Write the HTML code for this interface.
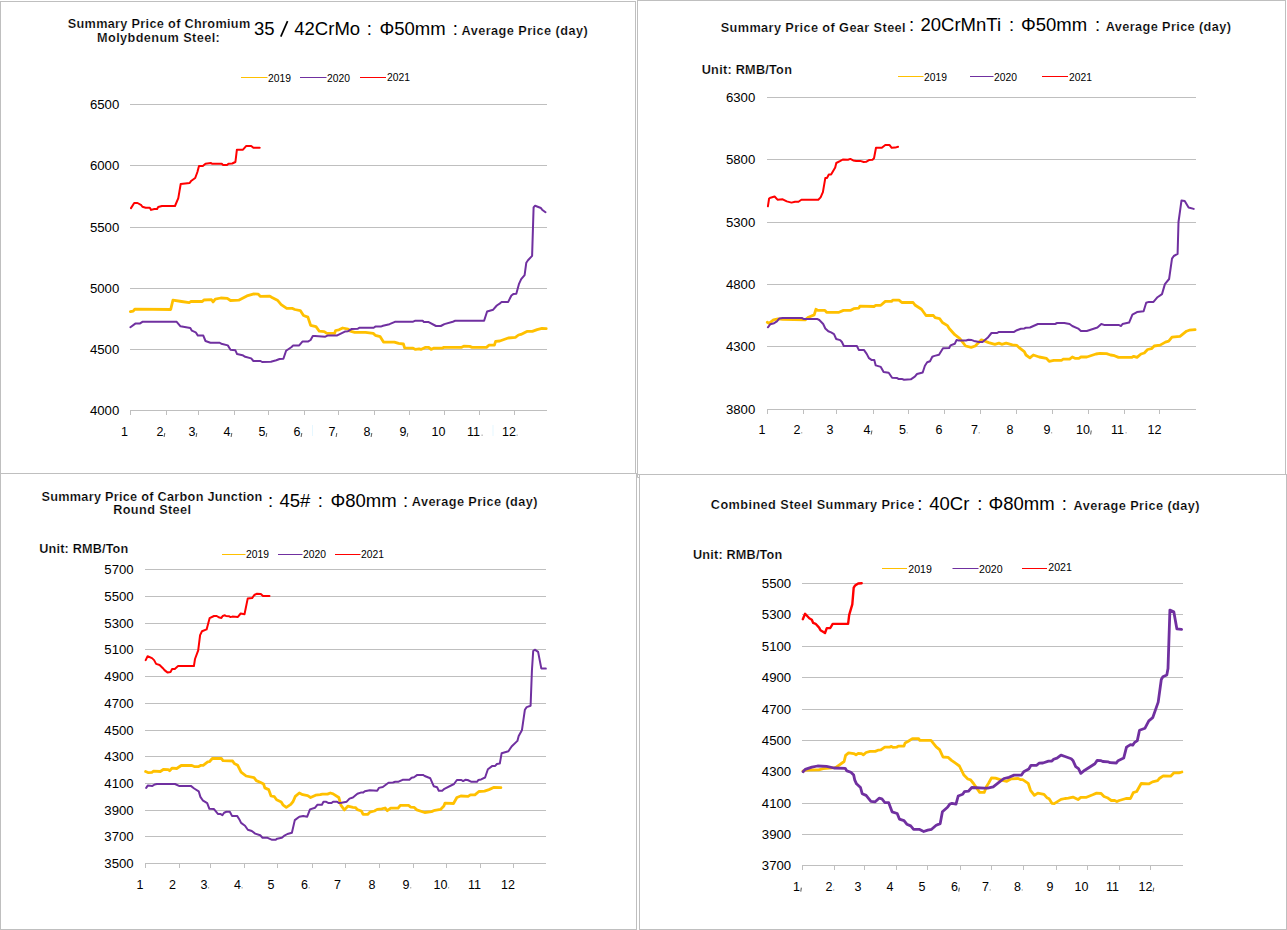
<!DOCTYPE html>
<html><head><meta charset="utf-8"><title>Steel Price Charts</title>
<style>
html,body{margin:0;padding:0;background:#fff;}
body{width:1287px;height:930px;overflow:hidden;}
svg{display:block;font-family:'Liberation Sans', sans-serif;}
</style></head><body>
<svg width="1287" height="930" viewBox="0 0 1287 930">
<rect width="1287" height="930" fill="#fff"/>
<rect x="0.5" y="1.5" width="635" height="472" fill="none" stroke="#bfbfbf" stroke-width="1"/>
<text x="67.70" y="27.9" font-size="12.7" font-weight="bold" textLength="182.50" lengthAdjust="spacing" stroke="#fff" stroke-width="0.2">Summary Price of Chromium</text>
<text x="97.00" y="41.9" font-size="12.7" font-weight="bold" textLength="122.80" lengthAdjust="spacing" stroke="#fff" stroke-width="0.2">Molybdenum Steel:</text>
<text x="254" y="34.7" font-size="18.5" font-weight="normal" text-anchor="start" fill="#000">35</text>
<text x="294.3" y="34.7" font-size="18.5" font-weight="normal" text-anchor="start" fill="#000">42CrMo</text>
<text x="369.3" y="34.7" font-size="18.5" font-weight="normal" text-anchor="middle" fill="#000">:</text>
<text x="379.5" y="34.7" font-size="18.5" font-weight="normal" text-anchor="start" fill="#000">Φ50mm</text>
<text x="455.2" y="34.7" font-size="18.5" font-weight="normal" text-anchor="middle" fill="#000">:</text>
<text x="461.50" y="34.5" font-size="12.7" font-weight="bold" textLength="126.20" lengthAdjust="spacing" stroke="#fff" stroke-width="0.2">Average Price (day)</text>
<line x1="241" y1="77.5" x2="267.5" y2="77.5" stroke="#ffc000" stroke-width="1"/>
<text x="268" y="81.5" font-size="10.3" font-weight="normal" text-anchor="start" fill="#000">2019</text>
<line x1="300" y1="77.5" x2="326.5" y2="77.5" stroke="#7030a0" stroke-width="1"/>
<text x="327" y="81.5" font-size="10.3" font-weight="normal" text-anchor="start" fill="#000">2020</text>
<line x1="360" y1="77.5" x2="386" y2="77.5" stroke="#ff0000" stroke-width="1"/>
<text x="387" y="80.8" font-size="10.3" font-weight="normal" text-anchor="start" fill="#000">2021</text>
<line x1="130" y1="104.5" x2="547" y2="104.5" stroke="#bfbfbf" stroke-width="1"/>
<line x1="130" y1="165.5" x2="547" y2="165.5" stroke="#bfbfbf" stroke-width="1"/>
<line x1="130" y1="227.5" x2="547" y2="227.5" stroke="#bfbfbf" stroke-width="1"/>
<line x1="130" y1="288.5" x2="547" y2="288.5" stroke="#bfbfbf" stroke-width="1"/>
<line x1="130" y1="349.5" x2="547" y2="349.5" stroke="#bfbfbf" stroke-width="1"/>
<line x1="130" y1="410.5" x2="547" y2="410.5" stroke="#bfbfbf" stroke-width="1"/>
<text x="119.3" y="108.5" font-size="13.2" font-weight="normal" text-anchor="end" fill="#000">6500</text>
<text x="119.3" y="169.5" font-size="13.2" font-weight="normal" text-anchor="end" fill="#000">6000</text>
<text x="119.3" y="231.5" font-size="13.2" font-weight="normal" text-anchor="end" fill="#000">5500</text>
<text x="119.3" y="292.5" font-size="13.2" font-weight="normal" text-anchor="end" fill="#000">5000</text>
<text x="119.3" y="353.5" font-size="13.2" font-weight="normal" text-anchor="end" fill="#000">4500</text>
<text x="119.3" y="414.5" font-size="13.2" font-weight="normal" text-anchor="end" fill="#000">4000</text>
<line x1="130.5" y1="410" x2="130.5" y2="415" stroke="#bfbfbf" stroke-width="1"/>
<line x1="166.5" y1="410" x2="166.5" y2="415" stroke="#bfbfbf" stroke-width="1"/>
<line x1="198.5" y1="410" x2="198.5" y2="415" stroke="#bfbfbf" stroke-width="1"/>
<line x1="234.5" y1="410" x2="234.5" y2="415" stroke="#bfbfbf" stroke-width="1"/>
<line x1="268.5" y1="410" x2="268.5" y2="415" stroke="#bfbfbf" stroke-width="1"/>
<line x1="304.5" y1="410" x2="304.5" y2="415" stroke="#bfbfbf" stroke-width="1"/>
<line x1="338.5" y1="410" x2="338.5" y2="415" stroke="#bfbfbf" stroke-width="1"/>
<line x1="374.5" y1="410" x2="374.5" y2="415" stroke="#bfbfbf" stroke-width="1"/>
<line x1="409.5" y1="410" x2="409.5" y2="415" stroke="#bfbfbf" stroke-width="1"/>
<line x1="444.5" y1="410" x2="444.5" y2="415" stroke="#bfbfbf" stroke-width="1"/>
<line x1="479.5" y1="410" x2="479.5" y2="415" stroke="#bfbfbf" stroke-width="1"/>
<line x1="514.5" y1="410" x2="514.5" y2="415" stroke="#bfbfbf" stroke-width="1"/>
<text x="121" y="436" font-size="12.5" font-weight="normal" text-anchor="start" fill="#000">1</text>
<text x="156.5" y="436" font-size="12.5" font-weight="normal" text-anchor="start" fill="#000">2</text>
<line x1="164.8" y1="433" x2="164.1" y2="437" stroke="#000" stroke-opacity="0.6" stroke-width="1.1"/>
<text x="188.5" y="436" font-size="12.5" font-weight="normal" text-anchor="start" fill="#000">3</text>
<line x1="196.8" y1="433" x2="196.1" y2="437" stroke="#000" stroke-opacity="0.6" stroke-width="1.1"/>
<text x="223.5" y="436" font-size="12.5" font-weight="normal" text-anchor="start" fill="#000">4</text>
<line x1="231.8" y1="433" x2="231.1" y2="437" stroke="#000" stroke-opacity="0.6" stroke-width="1.1"/>
<text x="258.5" y="436" font-size="12.5" font-weight="normal" text-anchor="start" fill="#000">5</text>
<line x1="266.8" y1="433" x2="266.1" y2="437" stroke="#000" stroke-opacity="0.6" stroke-width="1.1"/>
<text x="293.5" y="436" font-size="12.5" font-weight="normal" text-anchor="start" fill="#000">6</text>
<line x1="301.8" y1="433" x2="301.1" y2="437" stroke="#000" stroke-opacity="0.6" stroke-width="1.1"/>
<text x="328.5" y="436" font-size="12.5" font-weight="normal" text-anchor="start" fill="#000">7</text>
<line x1="336.8" y1="433" x2="336.1" y2="437" stroke="#000" stroke-opacity="0.6" stroke-width="1.1"/>
<text x="363.5" y="436" font-size="12.5" font-weight="normal" text-anchor="start" fill="#000">8</text>
<line x1="371.8" y1="433" x2="371.1" y2="437" stroke="#000" stroke-opacity="0.6" stroke-width="1.1"/>
<text x="399.5" y="436" font-size="12.5" font-weight="normal" text-anchor="start" fill="#000">9</text>
<line x1="407.8" y1="433" x2="407.1" y2="437" stroke="#000" stroke-opacity="0.6" stroke-width="1.1"/>
<text x="431.5" y="436" font-size="12.5" font-weight="normal" text-anchor="start" fill="#000">10</text>
<text x="467" y="436" font-size="12.5" font-weight="normal" text-anchor="start" fill="#000">11</text>
<rect x="481.5" y="434.5" width="1.2" height="1.5" fill="#000" fill-opacity="0.3"/>
<text x="502" y="436" font-size="12.5" font-weight="normal" text-anchor="start" fill="#000">12</text>
<rect x="516.5" y="434.5" width="1.2" height="1.5" fill="#000" fill-opacity="0.3"/>
<polyline points="130.4,311.7 133.2,311.1 134.8,309.2 170.7,309.5 172.9,300.2 181.6,301.5 189.2,302.6 191.4,301.3 202.3,301.5 203.9,300.0 211.5,299.7 213.1,301.9 215.3,299.1 220.8,298.0 227.3,298.3 230.5,300.5 238.7,300.2 246.9,295.9 253.9,293.9 258.3,294.2 260.5,296.4 269.8,296.1 272.0,297.5 277.4,300.2 281.2,304.6 286.7,308.4 292.6,308.4 294.8,309.5 300.3,310.6 303.5,315.5 307.9,317.1 310.6,325.3 316.0,326.6 319.3,331.2 324.2,331.6 326.9,333.4 334.5,333.4 335.6,330.5 338.9,329.8 342.7,328.0 348.1,329.1 350.3,331.2 354.7,332.3 365.5,332.3 373.2,333.4 375.3,335.3 380.2,336.7 383.5,342.1 394.4,342.1 398.6,343.4 403.4,344.0 404.6,347.9 413.1,348.2 415.5,349.4 419.1,348.8 420.9,349.4 425.1,347.4 428.7,347.4 431.1,349.4 433.5,348.2 442.0,348.2 443.8,347.4 461.2,347.4 463.7,346.2 469.7,346.4 472.1,347.4 486.5,347.4 488.9,345.2 494.4,345.2 495.6,341.4 499.8,341.0 508.2,338.0 515.4,337.4 518.5,335.0 520.9,334.4 526.9,331.4 532.3,331.4 537.1,329.6 541.9,328.4 546.2,328.6" fill="none" stroke="#ffc000" stroke-width="2.8" stroke-linejoin="round" stroke-linecap="round"/>
<polyline points="130.4,327.2 135.3,323.6 139.7,323.6 142.4,321.8 176.7,321.8 180.5,326.3 190.3,328.0 191.9,330.7 195.7,332.3 197.9,335.6 203.3,335.6 205.5,341.0 210.4,342.7 219.7,342.7 221.3,343.8 227.8,345.4 230.5,349.7 235.4,350.3 237.1,354.1 242.5,355.2 245.2,356.8 251.2,358.4 253.4,361.0 260.5,361.0 262.1,362.0 270.9,361.7 276.3,360.3 279.6,359.0 283.4,358.8 286.1,350.8 291.6,347.0 293.2,345.4 299.2,345.4 302.4,341.6 307.9,341.6 310.6,340.0 312.8,336.1 315.0,336.1 325.3,336.7 327.5,335.6 336.7,335.6 344.9,331.6 348.1,331.2 351.4,329.1 357.9,328.7 359.6,327.7 373.7,327.7 375.3,326.6 380.8,326.6 383.0,325.8 389.5,324.2 394.9,321.8 413.1,321.7 414.9,320.8 422.7,320.8 423.9,322.1 428.7,322.1 436.0,326.0 440.8,326.0 444.4,324.1 452.8,321.7 455.2,320.8 484.1,320.8 487.1,311.5 493.2,309.7 496.8,305.5 500.4,303.1 501.6,301.9 508.2,301.9 511.4,295.5 513.6,293.9 516.3,293.8 518.9,284.2 521.2,279.1 524.6,275.1 526.3,262.7 528.0,260.2 532.1,255.9 533.6,207.4 535.1,205.7 540.9,208.0 542.1,209.7 545.5,212.2" fill="none" stroke="#7030a0" stroke-width="2" stroke-linejoin="round" stroke-linecap="round"/>
<polyline points="131.0,208.1 134.2,203.0 137.5,203.0 141.3,205.2 142.4,206.8 145.7,207.7 149.8,207.7 151.1,209.9 154.4,209.0 157.1,209.0 158.2,207.0 162.0,206.0 175.0,206.0 178.3,198.1 179.4,191.6 180.7,184.0 189.7,182.9 191.4,180.7 195.2,178.0 197.4,172.0 199.0,166.0 202.8,166.0 205.5,163.8 211.0,163.0 212.0,163.8 221.8,163.8 222.9,164.9 227.3,164.9 228.4,163.8 232.2,163.5 235.4,162.0 236.9,149.7 243.0,149.7 246.3,145.9 251.2,145.9 253.4,147.8 259.7,147.8" fill="none" stroke="#ff0000" stroke-width="2" stroke-linejoin="round" stroke-linecap="round"/>
<rect x="637.5" y="0.5" width="648" height="474" fill="none" stroke="#bfbfbf" stroke-width="1"/>
<text x="720.70" y="31.6" font-size="12.7" font-weight="bold" textLength="184.90" lengthAdjust="spacing" stroke="#fff" stroke-width="0.2">Summary Price of Gear Steel</text>
<text x="911.6" y="30.5" font-size="18.5" font-weight="normal" text-anchor="middle" fill="#000">:</text>
<text x="920.5" y="30.5" font-size="18.5" font-weight="normal" text-anchor="start" fill="#000">20CrMnTi</text>
<text x="1011.6" y="30.5" font-size="18.5" font-weight="normal" text-anchor="middle" fill="#000">:</text>
<text x="1021" y="30.5" font-size="18.5" font-weight="normal" text-anchor="start" fill="#000">Φ50mm</text>
<text x="1097.6" y="30.5" font-size="18.5" font-weight="normal" text-anchor="middle" fill="#000">:</text>
<text x="1105.70" y="30.8" font-size="12.7" font-weight="bold" textLength="125.20" lengthAdjust="spacing" stroke="#fff" stroke-width="0.2">Average Price (day)</text>
<text x="701.70" y="73.9" font-size="12.7" font-weight="bold" textLength="90.20" lengthAdjust="spacing" stroke="#fff" stroke-width="0.2">Unit: RMB/Ton</text>
<line x1="898" y1="76.5" x2="923.5" y2="76.5" stroke="#ffc000" stroke-width="1"/>
<text x="924" y="81" font-size="10.3" font-weight="normal" text-anchor="start" fill="#000">2019</text>
<line x1="970" y1="76.5" x2="993.5" y2="76.5" stroke="#7030a0" stroke-width="1"/>
<text x="994" y="80.5" font-size="10.3" font-weight="normal" text-anchor="start" fill="#000">2020</text>
<line x1="1042" y1="76.5" x2="1068" y2="76.5" stroke="#ff0000" stroke-width="1"/>
<text x="1069" y="80.5" font-size="10.3" font-weight="normal" text-anchor="start" fill="#000">2021</text>
<line x1="767" y1="97.5" x2="1196" y2="97.5" stroke="#bfbfbf" stroke-width="1"/>
<line x1="767" y1="159.5" x2="1196" y2="159.5" stroke="#bfbfbf" stroke-width="1"/>
<line x1="767" y1="222.5" x2="1196" y2="222.5" stroke="#bfbfbf" stroke-width="1"/>
<line x1="767" y1="284.5" x2="1196" y2="284.5" stroke="#bfbfbf" stroke-width="1"/>
<line x1="767" y1="346.5" x2="1196" y2="346.5" stroke="#bfbfbf" stroke-width="1"/>
<line x1="767" y1="409.5" x2="1196" y2="409.5" stroke="#bfbfbf" stroke-width="1"/>
<text x="755.3" y="101.5" font-size="13.2" font-weight="normal" text-anchor="end" fill="#000">6300</text>
<text x="755.3" y="163.5" font-size="13.2" font-weight="normal" text-anchor="end" fill="#000">5800</text>
<text x="755.3" y="226.5" font-size="13.2" font-weight="normal" text-anchor="end" fill="#000">5300</text>
<text x="755.3" y="288.5" font-size="13.2" font-weight="normal" text-anchor="end" fill="#000">4800</text>
<text x="755.3" y="350.5" font-size="13.2" font-weight="normal" text-anchor="end" fill="#000">4300</text>
<text x="755.3" y="413.5" font-size="13.2" font-weight="normal" text-anchor="end" fill="#000">3800</text>
<line x1="767.5" y1="409" x2="767.5" y2="414" stroke="#bfbfbf" stroke-width="1"/>
<line x1="803.5" y1="409" x2="803.5" y2="414" stroke="#bfbfbf" stroke-width="1"/>
<line x1="836.5" y1="409" x2="836.5" y2="414" stroke="#bfbfbf" stroke-width="1"/>
<line x1="873.5" y1="409" x2="873.5" y2="414" stroke="#bfbfbf" stroke-width="1"/>
<line x1="908.5" y1="409" x2="908.5" y2="414" stroke="#bfbfbf" stroke-width="1"/>
<line x1="944.5" y1="409" x2="944.5" y2="414" stroke="#bfbfbf" stroke-width="1"/>
<line x1="980.5" y1="409" x2="980.5" y2="414" stroke="#bfbfbf" stroke-width="1"/>
<line x1="1016.5" y1="409" x2="1016.5" y2="414" stroke="#bfbfbf" stroke-width="1"/>
<line x1="1052.5" y1="409" x2="1052.5" y2="414" stroke="#bfbfbf" stroke-width="1"/>
<line x1="1088.5" y1="409" x2="1088.5" y2="414" stroke="#bfbfbf" stroke-width="1"/>
<line x1="1124.5" y1="409" x2="1124.5" y2="414" stroke="#bfbfbf" stroke-width="1"/>
<line x1="1159.5" y1="409" x2="1159.5" y2="414" stroke="#bfbfbf" stroke-width="1"/>
<text x="758.5" y="433.5" font-size="12.5" font-weight="normal" text-anchor="start" fill="#000">1</text>
<text x="793.5" y="433.5" font-size="12.5" font-weight="normal" text-anchor="start" fill="#000">2</text>
<rect x="801.1" y="432.0" width="1.2" height="1.5" fill="#000" fill-opacity="0.3"/>
<text x="826.5" y="433.5" font-size="12.5" font-weight="normal" text-anchor="start" fill="#000">3</text>
<text x="863.5" y="433.5" font-size="12.5" font-weight="normal" text-anchor="start" fill="#000">4</text>
<line x1="871.9" y1="430.5" x2="871.2" y2="434.5" stroke="#000" stroke-opacity="0.6" stroke-width="1.1"/>
<text x="899" y="433.5" font-size="12.5" font-weight="normal" text-anchor="start" fill="#000">5</text>
<rect x="906.6" y="432.0" width="1.2" height="1.5" fill="#000" fill-opacity="0.3"/>
<text x="935.5" y="433.5" font-size="12.5" font-weight="normal" text-anchor="start" fill="#000">6</text>
<text x="971" y="433.5" font-size="12.5" font-weight="normal" text-anchor="start" fill="#000">7</text>
<rect x="978.6" y="432.0" width="1.2" height="1.5" fill="#000" fill-opacity="0.3"/>
<text x="1006.5" y="433.5" font-size="12.5" font-weight="normal" text-anchor="start" fill="#000">8</text>
<text x="1043.5" y="433.5" font-size="12.5" font-weight="normal" text-anchor="start" fill="#000">9</text>
<rect x="1051.0" y="432.0" width="1.2" height="1.5" fill="#000" fill-opacity="0.3"/>
<text x="1076" y="433.5" font-size="12.5" font-weight="normal" text-anchor="start" fill="#000">10</text>
<line x1="1091.3" y1="430.5" x2="1090.6" y2="434.5" stroke="#000" stroke-opacity="0.6" stroke-width="1.1"/>
<text x="1111" y="433.5" font-size="12.5" font-weight="normal" text-anchor="start" fill="#000">11</text>
<rect x="1125.5" y="432.0" width="1.2" height="1.5" fill="#000" fill-opacity="0.3"/>
<text x="1147.5" y="433.5" font-size="12.5" font-weight="normal" text-anchor="start" fill="#000">12</text>
<polyline points="767.3,322.3 769.0,323.4 773.5,319.8 778.1,318.9 782.6,319.4 805.2,319.8 808.5,317.2 814.2,314.9 815.9,309.3 818.1,310.4 824.9,310.4 826.6,312.3 839.0,312.3 843.5,310.4 850.3,310.4 853.7,308.7 858.8,308.1 859.9,306.2 874.0,306.5 875.7,305.3 880.8,305.3 885.3,301.4 891.5,301.4 892.7,300.2 899.0,300.2 901.8,302.5 913.1,302.5 915.3,305.3 921.5,309.3 926.0,315.5 933.4,315.5 935.1,317.7 939.6,318.6 942.4,322.5 947.5,325.6 949.2,328.5 954.8,334.7 959.9,338.6 965.6,346.0 971.2,347.3 975.2,346.0 981.4,339.8 988.7,342.6 994.9,344.3 998.9,343.1 1001.7,344.3 1006.2,343.1 1012.4,344.8 1016.9,345.4 1019.8,348.2 1024.3,351.6 1026.0,355.0 1029.9,357.8 1033.3,355.0 1039.2,357.0 1046.5,358.3 1049.2,361.4 1053.8,360.3 1061.7,360.3 1063.0,359.2 1069.6,359.2 1072.3,357.0 1074.9,358.3 1078.9,358.3 1080.9,357.0 1086.8,357.0 1096.0,354.0 1100.0,353.4 1106.6,353.7 1110.6,355.0 1114.5,355.7 1118.5,357.4 1131.7,357.4 1133.7,356.3 1137.0,357.4 1141.0,354.0 1144.3,353.0 1147.6,349.5 1151.5,348.7 1154.2,346.0 1160.1,345.1 1165.4,342.1 1168.7,341.1 1172.0,337.2 1180.0,336.3 1186.5,331.2 1189.2,330.2 1195.1,329.6" fill="none" stroke="#ffc000" stroke-width="2.8" stroke-linejoin="round" stroke-linecap="round"/>
<polyline points="767.9,327.3 770.2,324.3 774.1,323.2 776.9,321.4 779.2,318.6 782.6,318.0 801.8,318.0 803.5,318.9 817.0,318.9 819.3,320.0 823.2,324.0 825.3,328.5 828.3,331.3 831.1,332.4 834.0,334.1 836.2,339.0 840.2,340.1 841.9,342.0 843.8,346.0 856.9,346.0 858.8,349.9 863.9,349.9 866.7,353.9 869.0,358.2 871.8,360.1 874.3,360.1 875.7,365.4 880.8,366.9 883.6,371.9 888.7,372.8 892.1,377.8 897.2,378.1 898.4,378.9 901.8,378.9 904.0,379.8 910.8,379.3 914.8,376.7 917.0,374.0 922.7,372.5 924.9,365.7 927.2,362.3 930.0,361.2 932.3,356.7 934.5,355.9 939.0,354.8 943.0,348.2 949.2,348.0 950.5,345.4 954.8,343.7 956.5,340.1 958.8,340.5 966.1,340.5 968.4,339.8 971.8,340.1 974.0,340.9 979.1,342.0 982.5,342.0 987.6,337.8 991.5,333.0 997.2,333.0 998.9,331.9 1014.1,331.9 1016.9,330.2 1020.9,328.8 1024.3,328.5 1026.0,327.7 1030.0,327.5 1037.9,324.0 1055.1,324.0 1057.1,323.0 1064.3,323.0 1069.6,324.0 1072.3,326.0 1078.2,328.6 1080.9,331.0 1086.8,331.0 1097.4,327.5 1101.3,324.0 1104.0,324.9 1118.5,324.9 1121.1,326.0 1122.5,324.0 1129.1,322.6 1132.4,314.7 1137.0,312.1 1143.6,311.2 1146.2,302.8 1148.9,301.9 1153.5,301.9 1157.5,297.2 1162.0,294.1 1164.9,284.1 1169.1,279.0 1172.0,258.6 1173.8,256.0 1177.6,253.9 1178.5,222.0 1181.5,200.4 1184.7,200.9 1188.6,207.5 1193.7,208.9" fill="none" stroke="#7030a0" stroke-width="2" stroke-linejoin="round" stroke-linecap="round"/>
<polyline points="767.9,206.3 769.1,198.5 770.5,197.7 774.6,196.5 777.5,199.7 782.7,199.3 786.8,201.4 791.5,202.6 795.0,201.7 798.5,201.7 801.4,199.7 818.3,199.7 820.6,197.4 822.9,192.1 825.3,178.1 827.0,177.9 828.8,174.6 831.1,174.6 835.2,167.6 836.3,163.0 840.4,160.9 842.8,159.5 848.0,159.7 850.3,158.9 853.2,160.4 856.2,160.9 860.2,160.9 863.7,162.0 866.1,161.8 869.0,160.1 872.5,159.7 874.0,158.3 876.0,147.8 881.8,147.8 885.3,144.9 889.4,144.9 891.7,147.8 895.2,147.6 898.1,146.7" fill="none" stroke="#ff0000" stroke-width="2" stroke-linejoin="round" stroke-linecap="round"/>
<rect x="0.5" y="473.5" width="636" height="456" fill="none" stroke="#bfbfbf" stroke-width="1"/>
<text x="41.50" y="501" font-size="12.7" font-weight="bold" textLength="220.80" lengthAdjust="spacing" stroke="#fff" stroke-width="0.2">Summary Price of Carbon Junction</text>
<text x="113.20" y="514.2" font-size="12.7" font-weight="bold" textLength="77.80" lengthAdjust="spacing" stroke="#fff" stroke-width="0.2">Round Steel</text>
<text x="270.6" y="506.5" font-size="18.5" font-weight="normal" text-anchor="middle" fill="#000">:</text>
<text x="279.5" y="506.5" font-size="18.5" font-weight="normal" text-anchor="start" fill="#000">45#</text>
<text x="320.4" y="506.5" font-size="18.5" font-weight="normal" text-anchor="middle" fill="#000">:</text>
<text x="330.5" y="506.5" font-size="18.5" font-weight="normal" text-anchor="start" fill="#000">Φ80mm</text>
<text x="405.6" y="506.5" font-size="18.5" font-weight="normal" text-anchor="middle" fill="#000">:</text>
<text x="411.80" y="506.3" font-size="12.7" font-weight="bold" textLength="125.60" lengthAdjust="spacing" stroke="#fff" stroke-width="0.2">Average Price (day)</text>
<text x="39.30" y="553.1" font-size="12.7" font-weight="bold" textLength="89.00" lengthAdjust="spacing" stroke="#fff" stroke-width="0.2">Unit: RMB/Ton</text>
<line x1="222" y1="554.5" x2="245.5" y2="554.5" stroke="#ffc000" stroke-width="1"/>
<text x="246" y="558" font-size="10.3" font-weight="normal" text-anchor="start" fill="#000">2019</text>
<line x1="278" y1="554.5" x2="302.5" y2="554.5" stroke="#7030a0" stroke-width="1"/>
<text x="303" y="558" font-size="10.3" font-weight="normal" text-anchor="start" fill="#000">2020</text>
<line x1="335" y1="554.5" x2="360.5" y2="554.5" stroke="#ff0000" stroke-width="1"/>
<text x="361" y="558" font-size="10.3" font-weight="normal" text-anchor="start" fill="#000">2021</text>
<line x1="145" y1="569.5" x2="546" y2="569.5" stroke="#bfbfbf" stroke-width="1"/>
<line x1="145" y1="596.5" x2="546" y2="596.5" stroke="#bfbfbf" stroke-width="1"/>
<line x1="145" y1="623.5" x2="546" y2="623.5" stroke="#bfbfbf" stroke-width="1"/>
<line x1="145" y1="649.5" x2="546" y2="649.5" stroke="#bfbfbf" stroke-width="1"/>
<line x1="145" y1="676.5" x2="546" y2="676.5" stroke="#bfbfbf" stroke-width="1"/>
<line x1="145" y1="703.5" x2="546" y2="703.5" stroke="#bfbfbf" stroke-width="1"/>
<line x1="145" y1="730.5" x2="546" y2="730.5" stroke="#bfbfbf" stroke-width="1"/>
<line x1="145" y1="756.5" x2="546" y2="756.5" stroke="#bfbfbf" stroke-width="1"/>
<line x1="145" y1="783.5" x2="546" y2="783.5" stroke="#bfbfbf" stroke-width="1"/>
<line x1="145" y1="810.5" x2="546" y2="810.5" stroke="#bfbfbf" stroke-width="1"/>
<line x1="145" y1="836.5" x2="546" y2="836.5" stroke="#bfbfbf" stroke-width="1"/>
<line x1="145" y1="863.5" x2="546" y2="863.5" stroke="#bfbfbf" stroke-width="1"/>
<text x="133.7" y="573.5" font-size="13.2" font-weight="normal" text-anchor="end" fill="#000">5700</text>
<text x="133.7" y="600.5" font-size="13.2" font-weight="normal" text-anchor="end" fill="#000">5500</text>
<text x="133.7" y="627.5" font-size="13.2" font-weight="normal" text-anchor="end" fill="#000">5300</text>
<text x="133.7" y="653.5" font-size="13.2" font-weight="normal" text-anchor="end" fill="#000">5100</text>
<text x="133.7" y="680.5" font-size="13.2" font-weight="normal" text-anchor="end" fill="#000">4900</text>
<text x="133.7" y="707.5" font-size="13.2" font-weight="normal" text-anchor="end" fill="#000">4700</text>
<text x="133.7" y="734.5" font-size="13.2" font-weight="normal" text-anchor="end" fill="#000">4500</text>
<text x="133.7" y="760.5" font-size="13.2" font-weight="normal" text-anchor="end" fill="#000">4300</text>
<text x="133.7" y="787.5" font-size="13.2" font-weight="normal" text-anchor="end" fill="#000">4100</text>
<text x="133.7" y="814.5" font-size="13.2" font-weight="normal" text-anchor="end" fill="#000">3900</text>
<text x="133.7" y="840.5" font-size="13.2" font-weight="normal" text-anchor="end" fill="#000">3700</text>
<text x="133.7" y="867.5" font-size="13.2" font-weight="normal" text-anchor="end" fill="#000">3500</text>
<line x1="145.5" y1="863" x2="145.5" y2="868" stroke="#bfbfbf" stroke-width="1"/>
<line x1="179.5" y1="863" x2="179.5" y2="868" stroke="#bfbfbf" stroke-width="1"/>
<line x1="210.5" y1="863" x2="210.5" y2="868" stroke="#bfbfbf" stroke-width="1"/>
<line x1="244.5" y1="863" x2="244.5" y2="868" stroke="#bfbfbf" stroke-width="1"/>
<line x1="277.5" y1="863" x2="277.5" y2="868" stroke="#bfbfbf" stroke-width="1"/>
<line x1="312.5" y1="863" x2="312.5" y2="868" stroke="#bfbfbf" stroke-width="1"/>
<line x1="345.5" y1="863" x2="345.5" y2="868" stroke="#bfbfbf" stroke-width="1"/>
<line x1="379.5" y1="863" x2="379.5" y2="868" stroke="#bfbfbf" stroke-width="1"/>
<line x1="413.5" y1="863" x2="413.5" y2="868" stroke="#bfbfbf" stroke-width="1"/>
<line x1="446.5" y1="863" x2="446.5" y2="868" stroke="#bfbfbf" stroke-width="1"/>
<line x1="480.5" y1="863" x2="480.5" y2="868" stroke="#bfbfbf" stroke-width="1"/>
<line x1="513.5" y1="863" x2="513.5" y2="868" stroke="#bfbfbf" stroke-width="1"/>
<text x="136.5" y="888.5" font-size="12.5" font-weight="normal" text-anchor="start" fill="#000">1</text>
<text x="169" y="888.5" font-size="12.5" font-weight="normal" text-anchor="start" fill="#000">2</text>
<text x="200.5" y="888.5" font-size="12.5" font-weight="normal" text-anchor="start" fill="#000">3</text>
<rect x="208.0" y="887.0" width="1.2" height="1.5" fill="#000" fill-opacity="0.3"/>
<text x="234" y="888.5" font-size="12.5" font-weight="normal" text-anchor="start" fill="#000">4</text>
<rect x="241.5" y="887.0" width="1.2" height="1.5" fill="#000" fill-opacity="0.3"/>
<text x="267.5" y="888.5" font-size="12.5" font-weight="normal" text-anchor="start" fill="#000">5</text>
<text x="301" y="888.5" font-size="12.5" font-weight="normal" text-anchor="start" fill="#000">6</text>
<rect x="308.6" y="887.0" width="1.2" height="1.5" fill="#000" fill-opacity="0.3"/>
<text x="334" y="888.5" font-size="12.5" font-weight="normal" text-anchor="start" fill="#000">7</text>
<text x="368.5" y="888.5" font-size="12.5" font-weight="normal" text-anchor="start" fill="#000">8</text>
<text x="402.5" y="888.5" font-size="12.5" font-weight="normal" text-anchor="start" fill="#000">9</text>
<rect x="410.1" y="887.0" width="1.2" height="1.5" fill="#000" fill-opacity="0.3"/>
<text x="433.5" y="888.5" font-size="12.5" font-weight="normal" text-anchor="start" fill="#000">10</text>
<rect x="448.0" y="887.0" width="1.2" height="1.5" fill="#000" fill-opacity="0.3"/>
<text x="468" y="888.5" font-size="12.5" font-weight="normal" text-anchor="start" fill="#000">11</text>
<text x="501" y="888.5" font-size="12.5" font-weight="normal" text-anchor="start" fill="#000">12</text>
<polyline points="145.6,771.5 148.5,772.7 151.9,772.3 153.5,771.2 160.3,771.5 163.7,769.3 168.2,769.6 169.6,770.7 172.2,768.1 176.7,768.5 181.2,765.5 191.9,765.5 194.8,766.7 198.7,766.5 201.0,765.3 203.2,765.3 207.7,761.9 209.4,761.7 212.3,758.5 221.3,758.3 223.0,760.6 229.2,760.8 232.6,761.0 234.3,763.6 237.7,765.3 241.1,772.1 246.1,776.0 254.0,777.7 256.3,780.6 260.2,782.3 263.6,784.0 264.8,787.9 268.7,789.6 271.0,796.0 274.4,796.7 276.6,799.8 281.2,802.0 282.9,804.8 286.3,807.3 290.8,804.3 293.1,801.5 295.3,796.4 299.3,793.0 302.7,794.7 307.7,795.6 310.6,797.5 315.6,795.2 320.2,794.7 322.4,794.1 327.5,794.1 330.3,793.0 333.1,793.8 338.8,797.5 341.0,805.4 344.4,809.9 347.8,806.2 352.9,807.3 355.7,807.7 357.4,809.6 361.4,811.0 363.1,814.4 367.6,814.4 369.8,812.2 374.4,811.0 377.2,809.4 381.7,808.8 385.1,808.0 387.3,810.7 390.7,808.2 398.1,808.2 400.3,805.4 408.8,805.4 410.5,807.1 414.0,807.3 416.8,809.9 424.7,812.5 431.5,811.6 434.8,810.3 440.5,809.4 443.9,806.0 445.0,803.1 453.5,803.5 456.9,797.5 460.8,796.0 468.1,796.4 470.4,794.9 474.9,794.9 478.9,791.5 484.5,791.1 489.0,789.6 494.1,787.3 500.9,787.7" fill="none" stroke="#ffc000" stroke-width="2.8" stroke-linejoin="round" stroke-linecap="round"/>
<polyline points="146.2,787.9 147.9,785.4 152.4,785.9 154.7,784.5 156.9,784.0 175.0,784.0 179.0,785.9 190.8,785.9 194.2,788.5 198.7,791.3 200.4,796.9 202.7,800.3 207.2,803.1 209.4,808.8 214.0,809.1 217.9,813.9 220.7,814.1 222.4,815.2 224.1,812.7 226.4,811.8 229.8,811.8 232.0,815.9 237.1,815.9 239.4,819.5 241.1,822.9 245.0,825.7 247.8,829.7 251.8,831.0 255.2,833.6 260.2,835.3 262.5,837.8 267.6,837.8 272.1,839.8 275.5,839.8 277.2,838.7 281.8,837.8 284.0,835.9 287.4,834.0 291.9,832.8 294.8,820.1 299.3,816.7 303.2,815.9 307.2,816.7 310.0,809.4 315.1,807.7 317.3,804.8 321.9,804.8 323.5,801.7 325.8,801.7 328.6,803.1 331.5,803.1 333.1,801.7 337.1,801.7 338.8,803.1 341.6,802.8 346.7,801.7 349.5,798.6 352.9,797.5 357.4,793.8 360.8,792.6 363.1,792.6 364.8,791.3 369.8,790.2 377.2,790.7 378.9,787.9 382.8,787.0 388.5,782.8 393.0,782.5 395.2,781.7 398.6,781.7 402.6,779.8 409.4,779.8 411.6,777.7 414.0,777.2 417.3,774.9 423.0,774.9 424.7,776.0 430.3,778.3 433.7,786.2 437.1,787.3 438.8,790.7 442.2,790.7 444.4,788.8 454.0,784.0 456.9,780.0 461.4,780.0 463.1,781.1 465.3,779.8 467.6,780.0 471.0,781.7 477.2,781.7 478.3,780.0 481.1,779.4 485.1,777.5 487.9,769.3 492.4,765.9 495.2,765.9 496.9,764.0 499.8,763.6 501.6,753.3 508.4,751.2 511.6,746.5 517.4,740.9 518.7,736.1 521.9,730.3 524.9,709.7 526.7,707.1 530.6,705.8 531.9,671.0 533.2,651.0 534.8,649.7 538.1,651.9 541.3,668.4 545.8,668.6" fill="none" stroke="#7030a0" stroke-width="2" stroke-linejoin="round" stroke-linecap="round"/>
<polyline points="145.7,660.1 147.6,656.3 152.0,658.1 154.1,660.1 156.1,663.9 159.6,665.0 162.9,668.2 164.5,670.1 167.7,672.6 170.5,672.1 172.1,669.0 174.8,669.0 178.1,666.1 193.9,666.1 195.0,659.0 198.2,650.3 200.1,635.1 202.0,631.2 206.6,629.4 209.6,618.2 214.0,616.0 216.7,616.0 219.4,617.6 221.4,617.9 222.7,616.0 224.9,615.3 226.0,616.0 229.2,616.2 230.3,617.1 232.3,616.6 237.9,616.9 240.7,613.5 244.5,614.2 247.7,598.6 252.1,598.1 254.3,595.0 257.0,593.7 260.8,593.9 263.0,595.9 269.5,595.9" fill="none" stroke="#ff0000" stroke-width="2" stroke-linejoin="round" stroke-linecap="round"/>
<rect x="639.5" y="474.5" width="647" height="455" fill="none" stroke="#bfbfbf" stroke-width="1"/>
<text x="710.80" y="509.2" font-size="12.7" font-weight="bold" textLength="203.40" lengthAdjust="spacing" stroke="#fff" stroke-width="0.2">Combined Steel Summary Price</text>
<text x="919.7" y="510.2" font-size="18.5" font-weight="normal" text-anchor="middle" fill="#000">:</text>
<text x="929.3" y="510.2" font-size="18.5" font-weight="normal" text-anchor="start" fill="#000">40Cr</text>
<text x="979.8" y="510.2" font-size="18.5" font-weight="normal" text-anchor="middle" fill="#000">:</text>
<text x="988.5" y="510.2" font-size="18.5" font-weight="normal" text-anchor="start" fill="#000">Φ80mm</text>
<text x="1064.4" y="510.2" font-size="18.5" font-weight="normal" text-anchor="middle" fill="#000">:</text>
<text x="1073.50" y="509.5" font-size="12.7" font-weight="bold" textLength="126.00" lengthAdjust="spacing" stroke="#fff" stroke-width="0.2">Average Price (day)</text>
<text x="693.00" y="558.6" font-size="12.7" font-weight="bold" textLength="89.30" lengthAdjust="spacing" stroke="#fff" stroke-width="0.2">Unit: RMB/Ton</text>
<line x1="882" y1="568.5" x2="907" y2="568.5" stroke="#ffc000" stroke-width="1"/>
<text x="908.3" y="573.3" font-size="10.6" font-weight="normal" text-anchor="start" fill="#000">2019</text>
<line x1="952.5" y1="568.5" x2="978.5" y2="568.5" stroke="#7030a0" stroke-width="1"/>
<text x="979" y="573.3" font-size="10.6" font-weight="normal" text-anchor="start" fill="#000">2020</text>
<line x1="1022" y1="568.5" x2="1047" y2="568.5" stroke="#ff0000" stroke-width="1"/>
<text x="1048.3" y="571" font-size="10.6" font-weight="normal" text-anchor="start" fill="#000">2021</text>
<line x1="802" y1="583.5" x2="1183" y2="583.5" stroke="#bfbfbf" stroke-width="1"/>
<line x1="802" y1="614.5" x2="1183" y2="614.5" stroke="#bfbfbf" stroke-width="1"/>
<line x1="802" y1="646.5" x2="1183" y2="646.5" stroke="#bfbfbf" stroke-width="1"/>
<line x1="802" y1="677.5" x2="1183" y2="677.5" stroke="#bfbfbf" stroke-width="1"/>
<line x1="802" y1="709.5" x2="1183" y2="709.5" stroke="#bfbfbf" stroke-width="1"/>
<line x1="802" y1="740.5" x2="1183" y2="740.5" stroke="#bfbfbf" stroke-width="1"/>
<line x1="802" y1="771.5" x2="1183" y2="771.5" stroke="#bfbfbf" stroke-width="1"/>
<line x1="802" y1="803.5" x2="1183" y2="803.5" stroke="#bfbfbf" stroke-width="1"/>
<line x1="802" y1="834.5" x2="1183" y2="834.5" stroke="#bfbfbf" stroke-width="1"/>
<line x1="802" y1="865.5" x2="1183" y2="865.5" stroke="#bfbfbf" stroke-width="1"/>
<text x="791.2" y="587.5" font-size="13.2" font-weight="normal" text-anchor="end" fill="#000">5500</text>
<text x="791.2" y="618.5" font-size="13.2" font-weight="normal" text-anchor="end" fill="#000">5300</text>
<text x="791.2" y="650.5" font-size="13.2" font-weight="normal" text-anchor="end" fill="#000">5100</text>
<text x="791.2" y="681.5" font-size="13.2" font-weight="normal" text-anchor="end" fill="#000">4900</text>
<text x="791.2" y="713.5" font-size="13.2" font-weight="normal" text-anchor="end" fill="#000">4700</text>
<text x="791.2" y="744.5" font-size="13.2" font-weight="normal" text-anchor="end" fill="#000">4500</text>
<text x="791.2" y="775.5" font-size="13.2" font-weight="normal" text-anchor="end" fill="#000">4300</text>
<text x="791.2" y="807.5" font-size="13.2" font-weight="normal" text-anchor="end" fill="#000">4100</text>
<text x="791.2" y="838.5" font-size="13.2" font-weight="normal" text-anchor="end" fill="#000">3900</text>
<text x="791.2" y="869.5" font-size="13.2" font-weight="normal" text-anchor="end" fill="#000">3700</text>
<line x1="802.5" y1="865" x2="802.5" y2="870" stroke="#bfbfbf" stroke-width="1"/>
<line x1="834.5" y1="865" x2="834.5" y2="870" stroke="#bfbfbf" stroke-width="1"/>
<line x1="864.5" y1="865" x2="864.5" y2="870" stroke="#bfbfbf" stroke-width="1"/>
<line x1="896.5" y1="865" x2="896.5" y2="870" stroke="#bfbfbf" stroke-width="1"/>
<line x1="927.5" y1="865" x2="927.5" y2="870" stroke="#bfbfbf" stroke-width="1"/>
<line x1="960.5" y1="865" x2="960.5" y2="870" stroke="#bfbfbf" stroke-width="1"/>
<line x1="991.5" y1="865" x2="991.5" y2="870" stroke="#bfbfbf" stroke-width="1"/>
<line x1="1023.5" y1="865" x2="1023.5" y2="870" stroke="#bfbfbf" stroke-width="1"/>
<line x1="1056.5" y1="865" x2="1056.5" y2="870" stroke="#bfbfbf" stroke-width="1"/>
<line x1="1087.5" y1="865" x2="1087.5" y2="870" stroke="#bfbfbf" stroke-width="1"/>
<line x1="1119.5" y1="865" x2="1119.5" y2="870" stroke="#bfbfbf" stroke-width="1"/>
<line x1="1150.5" y1="865" x2="1150.5" y2="870" stroke="#bfbfbf" stroke-width="1"/>
<text x="793" y="890.7" font-size="12.5" font-weight="normal" text-anchor="start" fill="#000">1</text>
<line x1="801.4" y1="887.7" x2="800.7" y2="891.7" stroke="#000" stroke-opacity="0.6" stroke-width="1.1"/>
<text x="825.5" y="890.7" font-size="12.5" font-weight="normal" text-anchor="start" fill="#000">2</text>
<rect x="833.1" y="889.2" width="1.2" height="1.5" fill="#000" fill-opacity="0.3"/>
<text x="854.5" y="890.7" font-size="12.5" font-weight="normal" text-anchor="start" fill="#000">3</text>
<text x="886.5" y="890.7" font-size="12.5" font-weight="normal" text-anchor="start" fill="#000">4</text>
<text x="918.5" y="890.7" font-size="12.5" font-weight="normal" text-anchor="start" fill="#000">5</text>
<text x="951" y="890.7" font-size="12.5" font-weight="normal" text-anchor="start" fill="#000">6</text>
<line x1="959.4" y1="887.7" x2="958.7" y2="891.7" stroke="#000" stroke-opacity="0.6" stroke-width="1.1"/>
<text x="982" y="890.7" font-size="12.5" font-weight="normal" text-anchor="start" fill="#000">7</text>
<rect x="989.6" y="889.2" width="1.2" height="1.5" fill="#000" fill-opacity="0.3"/>
<text x="1014" y="890.7" font-size="12.5" font-weight="normal" text-anchor="start" fill="#000">8</text>
<rect x="1021.6" y="889.2" width="1.2" height="1.5" fill="#000" fill-opacity="0.3"/>
<text x="1046.5" y="890.7" font-size="12.5" font-weight="normal" text-anchor="start" fill="#000">9</text>
<text x="1074.5" y="890.7" font-size="12.5" font-weight="normal" text-anchor="start" fill="#000">10</text>
<text x="1106" y="890.7" font-size="12.5" font-weight="normal" text-anchor="start" fill="#000">11</text>
<text x="1138.5" y="890.7" font-size="12.5" font-weight="normal" text-anchor="start" fill="#000">12</text>
<line x1="1153.8" y1="887.7" x2="1153.1" y2="891.7" stroke="#000" stroke-opacity="0.6" stroke-width="1.1"/>
<polyline points="802.9,771.1 806.3,770.0 818.7,769.8 823.2,768.6 835.6,767.7 844.1,761.5 845.6,755.3 848.6,752.8 853.7,753.6 856.0,754.8 858.2,753.3 861.6,753.6 863.3,754.8 866.1,752.5 870.1,751.4 875.2,751.4 878.0,750.2 880.8,749.9 884.8,747.2 889.8,747.2 891.0,746.3 893.2,747.4 896.6,747.2 898.3,746.1 904.0,746.1 905.1,742.9 907.9,741.5 912.4,738.6 918.6,738.6 919.8,740.4 931.0,740.4 936.2,746.9 939.6,749.7 943.0,757.0 948.1,757.4 951.5,760.4 954.8,762.7 959.4,766.0 963.9,775.1 967.8,779.0 970.6,779.9 973.5,783.5 979.7,792.4 984.2,792.4 986.5,786.4 988.7,783.0 991.5,777.9 995.5,778.1 1002.3,780.4 1006.8,781.3 1011.3,778.8 1018.1,778.5 1020.3,779.6 1022.6,779.6 1028.2,783.3 1030.5,790.3 1034.4,795.4 1037.8,793.1 1044.0,794.3 1046.9,797.7 1049.1,798.8 1051.9,803.3 1054.2,803.6 1061.0,799.4 1065.0,798.5 1068.4,798.2 1072.9,797.1 1078.0,799.6 1080.8,797.3 1086.5,797.3 1092.7,794.8 1096.6,793.1 1101.1,793.5 1104.0,796.5 1107.3,797.7 1111.3,800.5 1114.7,800.5 1116.9,801.6 1119.2,800.5 1126.0,798.5 1130.5,798.5 1133.3,792.6 1136.7,791.5 1141.2,783.5 1149.1,783.8 1152.5,781.9 1157.6,780.7 1159.3,778.5 1163.2,775.9 1170.6,776.2 1174.0,772.8 1179.0,772.8 1181.9,772.0" fill="none" stroke="#ffc000" stroke-width="2.8" stroke-linejoin="round" stroke-linecap="round"/>
<polyline points="803.1,771.7 805.2,769.4 811.9,767.2 817.6,766.0 826.6,766.4 834.0,768.0 845.2,768.3 846.9,770.9 850.9,772.3 853.7,775.1 854.8,780.2 856.5,783.8 860.5,787.5 862.2,793.7 866.1,795.4 870.9,801.4 875.2,801.8 879.1,798.2 881.9,798.8 884.8,802.5 888.7,802.7 892.1,811.8 897.2,813.5 899.4,819.1 904.0,820.6 906.8,824.2 910.7,825.9 913.6,829.3 919.2,829.3 923.7,831.5 927.7,830.1 931.6,829.3 936.2,825.3 940.2,823.6 942.4,811.8 947.5,807.3 949.8,804.1 952.0,803.3 956.0,804.1 958.2,796.0 962.7,794.3 964.4,791.7 968.4,791.2 971.8,787.5 984.2,788.1 987.6,788.1 993.2,786.9 1001.1,780.7 1004.0,778.5 1009.0,777.3 1014.1,775.1 1021.5,775.1 1023.7,771.7 1028.8,768.9 1031.0,765.3 1036.7,765.3 1039.0,763.2 1042.9,763.0 1048.5,761.2 1051.9,761.0 1053.6,759.3 1057.0,758.1 1061.0,755.1 1065.0,756.5 1071.2,758.7 1072.9,760.4 1075.7,766.6 1078.5,768.6 1080.8,773.4 1084.8,770.2 1094.9,763.8 1097.2,760.4 1101.1,760.7 1102.8,761.5 1108.5,761.9 1110.2,762.7 1116.4,763.0 1118.1,760.7 1123.7,758.1 1126.5,747.2 1130.5,744.6 1132.7,745.2 1134.4,742.7 1137.3,740.6 1139.5,730.2 1145.0,728.2 1148.8,720.9 1152.7,717.7 1158.2,702.1 1161.3,679.5 1162.9,676.7 1166.8,674.9 1168.0,668.6 1169.9,610.1 1173.8,611.7 1176.9,628.9 1181.6,629.3" fill="none" stroke="#7030a0" stroke-width="2.8" stroke-linejoin="round" stroke-linecap="round"/>
<polyline points="802.8,619.2 805.1,613.8 809.3,618.3 811.8,619.7 813.2,622.9 815.6,623.8 819.1,627.6 820.5,630.2 823.0,631.7 825.0,633.0 826.8,628.1 830.3,628.0 832.7,623.9 848.1,623.9 849.2,614.8 852.3,604.3 853.7,587.6 855.1,585.5 858.2,583.5 861.7,583.2" fill="none" stroke="#ff0000" stroke-width="2.4" stroke-linejoin="round" stroke-linecap="round"/>
<line x1="280.8" y1="36.6" x2="287.6" y2="21.2" stroke="#000" stroke-width="1.7"/>
<path d="M637.5 474 V477.5 H639" fill="none" stroke="#bfbfbf" stroke-width="1"/>
<rect x="312" y="425" width="1" height="11" fill="#e6f7ff"/>
<rect x="492.5" y="425" width="1" height="11" fill="#e6f7ff"/>
</svg>
</body></html>
